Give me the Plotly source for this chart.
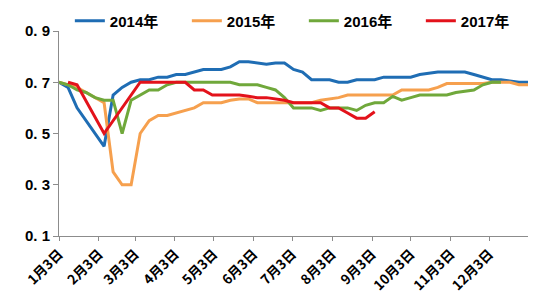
import pandas as pd
import plotly.graph_objects as go

# weekly observation dates (plotted on a common calendar year)
weeks = pd.date_range("2014-01-03", periods=53, freq="7D")

s2014 = [0.70, 0.68, 0.60, None, None, 0.45, 0.65, 0.68, 0.70, 0.71,
         0.71, 0.72, 0.72, 0.73, 0.73, 0.74, 0.75, 0.75, 0.75, 0.76,
         0.78, 0.78, 0.775, 0.77, 0.775, 0.775, 0.75, 0.74, 0.71, 0.71,
         0.71, 0.70, 0.70, 0.71, 0.71, 0.71, 0.72, 0.72, 0.72, 0.72,
         0.73, 0.735, 0.74, 0.74, 0.74, 0.74, 0.73, 0.72, 0.71, 0.71,
         0.705, 0.70, 0.70]
s2015 = [0.70, 0.69, 0.68, 0.66, 0.64, 0.62, 0.35, 0.30, 0.30, 0.50,
         0.55, 0.57, 0.57, 0.58, 0.59, 0.60, 0.62, 0.62, 0.62, 0.63,
         0.635, 0.635, 0.62, 0.62, 0.62, 0.62, 0.62, 0.62, 0.62, 0.63,
         0.635, 0.64, 0.65, 0.65, 0.65, 0.65, 0.65, 0.65, 0.67, 0.67,
         0.67, 0.67, 0.68, 0.695, 0.695, 0.695, 0.695, 0.695, 0.70, 0.70,
         0.70, 0.69, 0.69]
s2016 = [0.70, 0.69, 0.67, 0.66, 0.64, 0.63, 0.63, 0.50, 0.63, 0.65,
         0.67, 0.67, 0.69, 0.70, 0.70, 0.70, 0.70, 0.70, 0.70, 0.70,
         0.69, 0.69, 0.69, 0.68, 0.67, 0.64, 0.60, 0.60, 0.60, 0.59,
         0.60, 0.60, 0.60, 0.59, 0.61, 0.62, 0.62, 0.645, 0.63, 0.64,
         0.65, 0.65, 0.65, 0.65, 0.66, 0.665, 0.67, 0.69, 0.70, 0.70]
s2017 = [None, 0.70, 0.69, None, None, 0.50, None, None, None, 0.70,
         0.70, 0.70, 0.70, 0.70, 0.70, 0.67, 0.67, 0.65, 0.65, 0.65,
         0.65, 0.645, 0.64, 0.64, 0.635, 0.63, 0.62, 0.62, 0.62, 0.62,
         0.60, 0.60, 0.58, 0.56, 0.56, 0.585]

series = [("2014年", s2014, "#1f6db4"),
          ("2015年", s2015, "#f6a04e"),
          ("2016年", s2016, "#70a83b"),
          ("2017年", s2017, "#e3121b")]

tick_dates = [f"2014-{m:02d}-03" for m in range(1, 13)]
tick_labels = [f"{m}月3日" for m in range(1, 13)]
y_ticks = [0.1, 0.3, 0.5, 0.7, 0.9]
y_labels = ["0. 1", "0. 3", "0. 5", "0. 7", "0. 9"]

fig = go.Figure()
for name, vals, col in series:
    fig.add_trace(go.Scatter(x=weeks[:len(vals)], y=vals, name=name, mode="lines",
                             line=dict(color=col, width=3), connectgaps=True))

fig.update_layout(
    width=550, height=300,
    margin=dict(l=59, r=22, t=31, b=64, autoexpand=False),
    paper_bgcolor="white", plot_bgcolor="white",
    font=dict(family="Liberation Sans, Noto Sans CJK SC", color="black"),
    showlegend=True,
    legend=dict(orientation="h", xref="container", yref="container",
                x=0.127, xanchor="left", y=0.93, yanchor="middle",
                font=dict(size=15, weight="bold"), entrywidth=72,
                bgcolor="rgba(0,0,0,0)", itemwidth=30),
    xaxis=dict(type="date", range=[weeks[0], weeks[-1]], tickvals=tick_dates,
               ticktext=tick_labels, tickangle=-45, showgrid=False,
               showline=True, linecolor="#8c8c8c", linewidth=1,
               ticks="outside", ticklen=4, tickcolor="#8c8c8c", automargin=False,
               tickfont=dict(size=13.5, family="Noto Sans CJK SC", weight="bold")),
    yaxis=dict(range=[0.1, 0.9], tickvals=y_ticks, ticktext=y_labels,
               showgrid=False, zeroline=False, showline=True, linecolor="#8c8c8c",
               linewidth=1, ticks="outside", ticklen=5, tickcolor="#8c8c8c",
               automargin=False,
               tickfont=dict(size=15, weight="bold")),
)

fig.write_html("out.html")
